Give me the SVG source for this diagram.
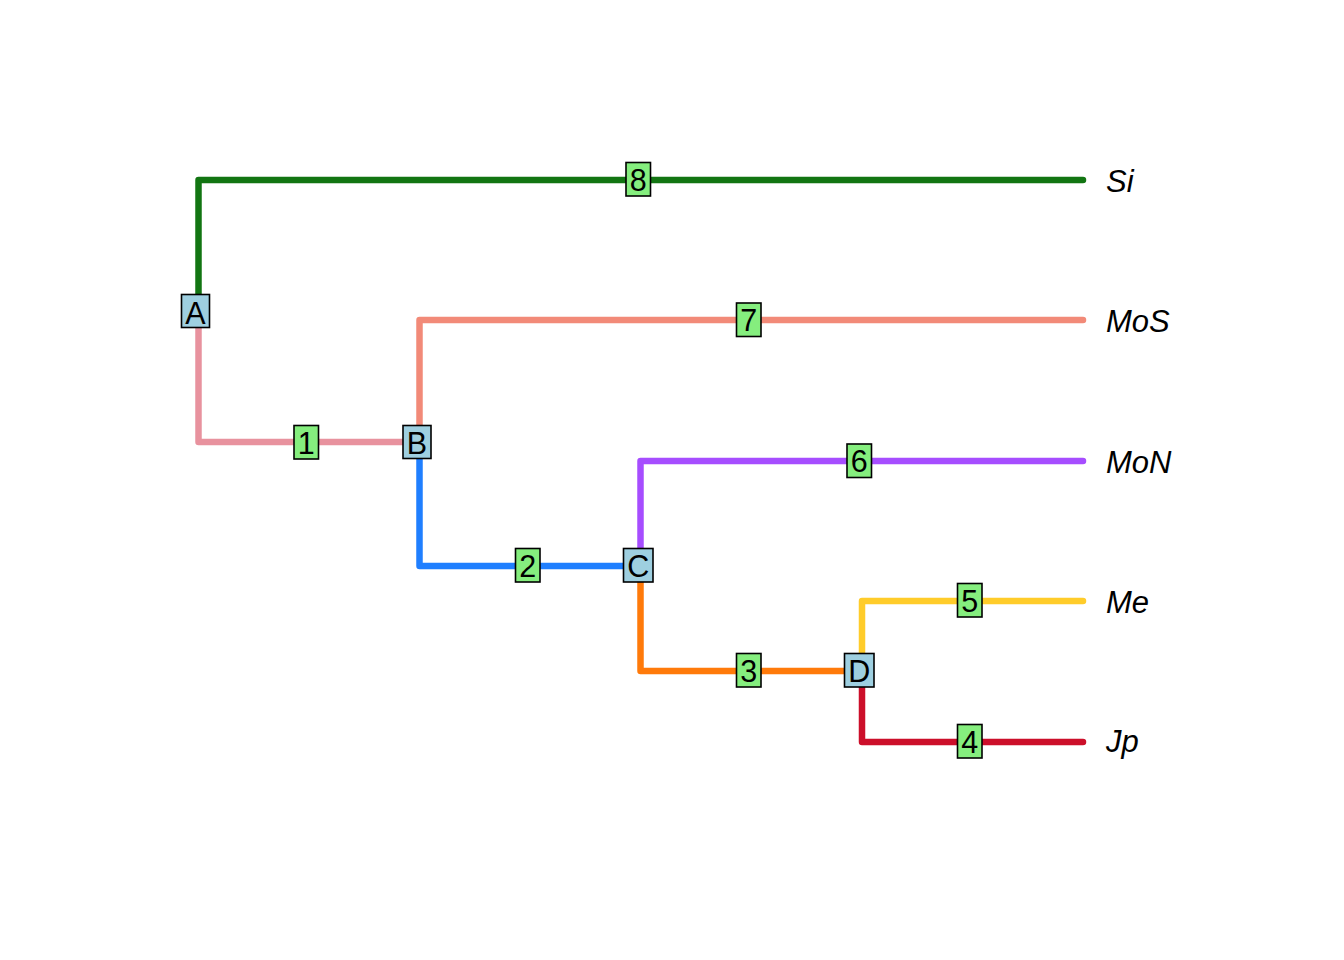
<svg xmlns="http://www.w3.org/2000/svg" width="1344" height="960" viewBox="0 0 1344 960">
<style>
.e{fill:none;stroke-width:6.5;stroke-linecap:round;stroke-linejoin:round}
.nb{fill:#9ECFE0;stroke:#000;stroke-width:1.6}
.eb{fill:#85EE7E;stroke:#000;stroke-width:1.6}
.t{font-family:"Liberation Sans",Arial,sans-serif;font-size:30.5px;fill:#000;text-anchor:middle}
.tip{font-family:"Liberation Sans",Arial,sans-serif;font-size:31px;font-style:italic;fill:#000}
</style>
<rect width="1344" height="960" fill="#fff"/>
<g id="connectors">
<path class="e" stroke="#127512" d="M198.5,312 V180 H1083"/>
<path class="e" stroke="#E8929E" d="M198.5,312 V442 H419.5"/>
<path class="e" stroke="#F28A78" d="M419.5,442 V320 H1083"/>
<path class="e" stroke="#1F7FFF" d="M419.5,442 V566 H640.5"/>
<path class="e" stroke="#A64DFF" d="M640.5,566 V461 H1083"/>
<path class="e" stroke="#FF7A0A" d="M640.5,566 V671 H862"/>
<path class="e" stroke="#FFCC2A" d="M862,671 V601 H1083"/>
<path class="e" stroke="#CC0F2A" d="M862,671 V742 H1083"/>
</g>
<g id="edge-8"><rect class="eb" x="626" y="162.5" width="24.5" height="33.5"/><text class="t" x="638.2" y="190.5">8</text></g>
<g id="edge-7"><rect class="eb" x="736.5" y="303" width="24.5" height="33.5"/><text class="t" x="748.7" y="331">7</text></g>
<g id="edge-6"><rect class="eb" x="847" y="444" width="24.5" height="33.5"/><text class="t" x="859.2" y="472">6</text></g>
<g id="edge-5"><rect class="eb" x="957.5" y="583.5" width="24.5" height="33.5"/><text class="t" x="969.7" y="611.5">5</text></g>
<g id="edge-4"><rect class="eb" x="957.5" y="724.5" width="24.5" height="33.5"/><text class="t" x="969.7" y="752.5">4</text></g>
<g id="edge-3"><rect class="eb" x="736.5" y="653.5" width="24.5" height="33.5"/><text class="t" x="748.7" y="681.5">3</text></g>
<g id="edge-2"><rect class="eb" x="515.5" y="548.5" width="24.5" height="33.5"/><text class="t" x="527.7" y="576.5">2</text></g>
<g id="edge-1"><rect class="eb" x="294" y="425.5" width="24.5" height="33.5"/><text class="t" x="306.2" y="453.5">1</text></g>
<g id="node-A"><rect class="nb" x="181.5" y="294.5" width="28" height="33"/><text class="t" x="195.5" y="323.5">A</text></g>
<g id="node-B"><rect class="nb" x="403" y="425.5" width="28" height="33"/><text class="t" x="417" y="453.5">B</text></g>
<g id="node-C"><rect class="nb" x="623.5" y="548.5" width="29.5" height="33.5"/><text class="t" x="638.2" y="576.5">C</text></g>
<g id="node-D"><rect class="nb" x="844.5" y="653.5" width="29.5" height="33.5"/><text class="t" x="859.2" y="681.5">D</text></g>
<g id="tips">
<text class="tip" x="1106" y="191.5">Si</text>
<text class="tip" x="1106" y="331.5">MoS</text>
<text class="tip" x="1106" y="472.5">MoN</text>
<text class="tip" x="1106" y="612.5">Me</text>
<text class="tip" x="1106" y="751.5">Jp</text>
</g>
</svg>
